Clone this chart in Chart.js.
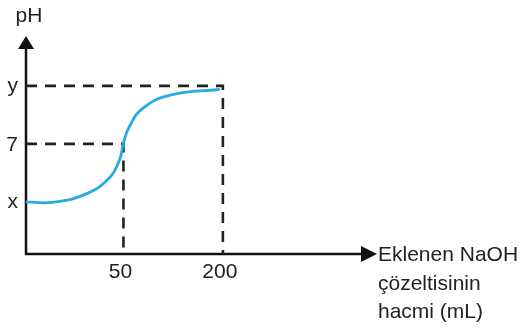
<!DOCTYPE html>
<html lang="tr">
<head>
  <meta charset="utf-8">
  <title>pH eğrisi</title>
  <style>
    body { margin: 0; background: #fff; }
    #wrap { position: relative; width: 528px; height: 332px; }
  </style>
</head>
<body>
<div id="wrap"><canvas id="myChart" width="528" height="332"></canvas></div>
<script src="https://cdn.jsdelivr.net/npm/chart.js@4/dist/chart.umd.min.js"></script>
<script>
// x: 1 = 50 mL, 2 = 200 mL ; y: 1 = x, 2 = 7, 3 = y
const xTickPos = [1, 2];
const xTickLabels = ['50', '200'];
const yTickPos = [1, 2, 3];
const yTickLabels = ['x', '7', 'y'];

// okunan eğri noktaları
const curveX = [0.02, 0.28, 0.60, 0.84, 0.96, 1.00, 1.06, 1.20, 1.47, 1.97];
const curveY = [1.00, 0.99, 1.12, 1.38, 1.72, 2.01, 2.30, 2.62, 2.84, 2.94];

const xMin = 0.02, xMax = 3.55;
const yMin = 0.1, yMax = 3.86;

const axisTitleY = 'pH';
const axisTitleX = ['Eklenen NaOH', 'çözeltisinin', 'hacmi (mL)'];

const FONT = '21px "Liberation Sans", Arial, sans-serif';
const INK = '#222';

const curve = curveX.map((v, i) => ({ x: v, y: curveY[i] }));
// kesikli çizgiler: eksenden noktaya, oradan x eksenine
const guideTop = [{ x: xMin, y: yTickPos[2] }, { x: xTickPos[1], y: yTickPos[2] }, { x: xTickPos[1], y: yMin }];
const guideMid = [{ x: xMin, y: yTickPos[1] }, { x: xTickPos[0], y: yTickPos[1] }, { x: xTickPos[0], y: yMin }];

const axesPlugin = {
  id: 'axes',
  beforeDatasetsDraw(chart) {
    const c = chart.ctx, a = chart.chartArea;
    c.save();
    c.strokeStyle = '#111';
    c.fillStyle = '#111';
    c.lineWidth = 2.5;
    // y ekseni
    c.beginPath();
    c.moveTo(a.left, a.bottom + 1);
    c.lineTo(a.left, a.top + 10);
    c.stroke();
    c.beginPath();
    c.moveTo(a.left, a.top);
    c.lineTo(a.left - 8, a.top + 13);
    c.lineTo(a.left + 8, a.top + 13);
    c.closePath();
    c.fill();
    // x ekseni
    c.beginPath();
    c.moveTo(a.left - 1, a.bottom);
    c.lineTo(a.right - 10, a.bottom);
    c.stroke();
    c.beginPath();
    c.moveTo(a.right, a.bottom);
    c.lineTo(a.right - 16, a.bottom - 8);
    c.lineTo(a.right - 16, a.bottom + 8);
    c.closePath();
    c.fill();
    c.restore();
  },
  afterDraw(chart) {
    const c = chart.ctx, a = chart.chartArea;
    const xs = chart.scales.x, ys = chart.scales.y;
    c.save();
    c.font = FONT;
    c.fillStyle = INK;
    c.textBaseline = 'alphabetic';
    // y etiketleri
    c.textAlign = 'right';
    yTickPos.forEach((v, i) => {
      const m = c.measureText(yTickLabels[i]);
      const py = ys.getPixelForValue(v) + m.actualBoundingBoxAscent / 2 + 0.5;
      c.fillText(yTickLabels[i], a.left - 8, py);
    });
    // x etiketleri
    c.textAlign = 'center';
    xTickPos.forEach((v, i) => {
      c.fillText(xTickLabels[i], xs.getPixelForValue(v) - 3, a.bottom + 24);
    });
    // eksen başlıkları
    c.fillText(axisTitleY, a.left + 3, 22);
    c.textAlign = 'left';
    axisTitleX.forEach((t, i) => {
      c.fillText(t, a.right + 1, a.bottom + 7 + i * 28.5);
    });
    c.restore();
  }
};

const ctx = document.getElementById('myChart');
const myChart = new Chart(ctx, {
  type: 'line',
  data: {
    datasets: [
      {
        label: 'pH',
        data: curve,
        borderColor: '#29abe2',
        borderWidth: 2.8,
        pointRadius: 0,
        tension: 0.45,
        fill: false
      },
      {
        label: 'y',
        data: guideTop,
        borderColor: INK,
        borderWidth: 2.6,
        borderDash: [11, 8],
        pointRadius: 0,
        tension: 0,
        fill: false
      },
      {
        label: '7',
        data: guideMid,
        borderColor: INK,
        borderWidth: 2.6,
        borderDash: [11, 8],
        pointRadius: 0,
        tension: 0,
        fill: false
      }
    ]
  },
  options: {
    responsive: false,
    animation: false,
    layout: { padding: { left: 26, right: 151, top: 36, bottom: 78 } },
    plugins: {
      legend: { display: false },
      tooltip: { enabled: false },
      title: { display: false }
    },
    scales: {
      x: { type: 'linear', min: xMin, max: xMax, display: false },
      y: { type: 'linear', min: yMin, max: yMax, display: false }
    }
  },
  plugins: [axesPlugin]
});
</script>
</body>
</html>
